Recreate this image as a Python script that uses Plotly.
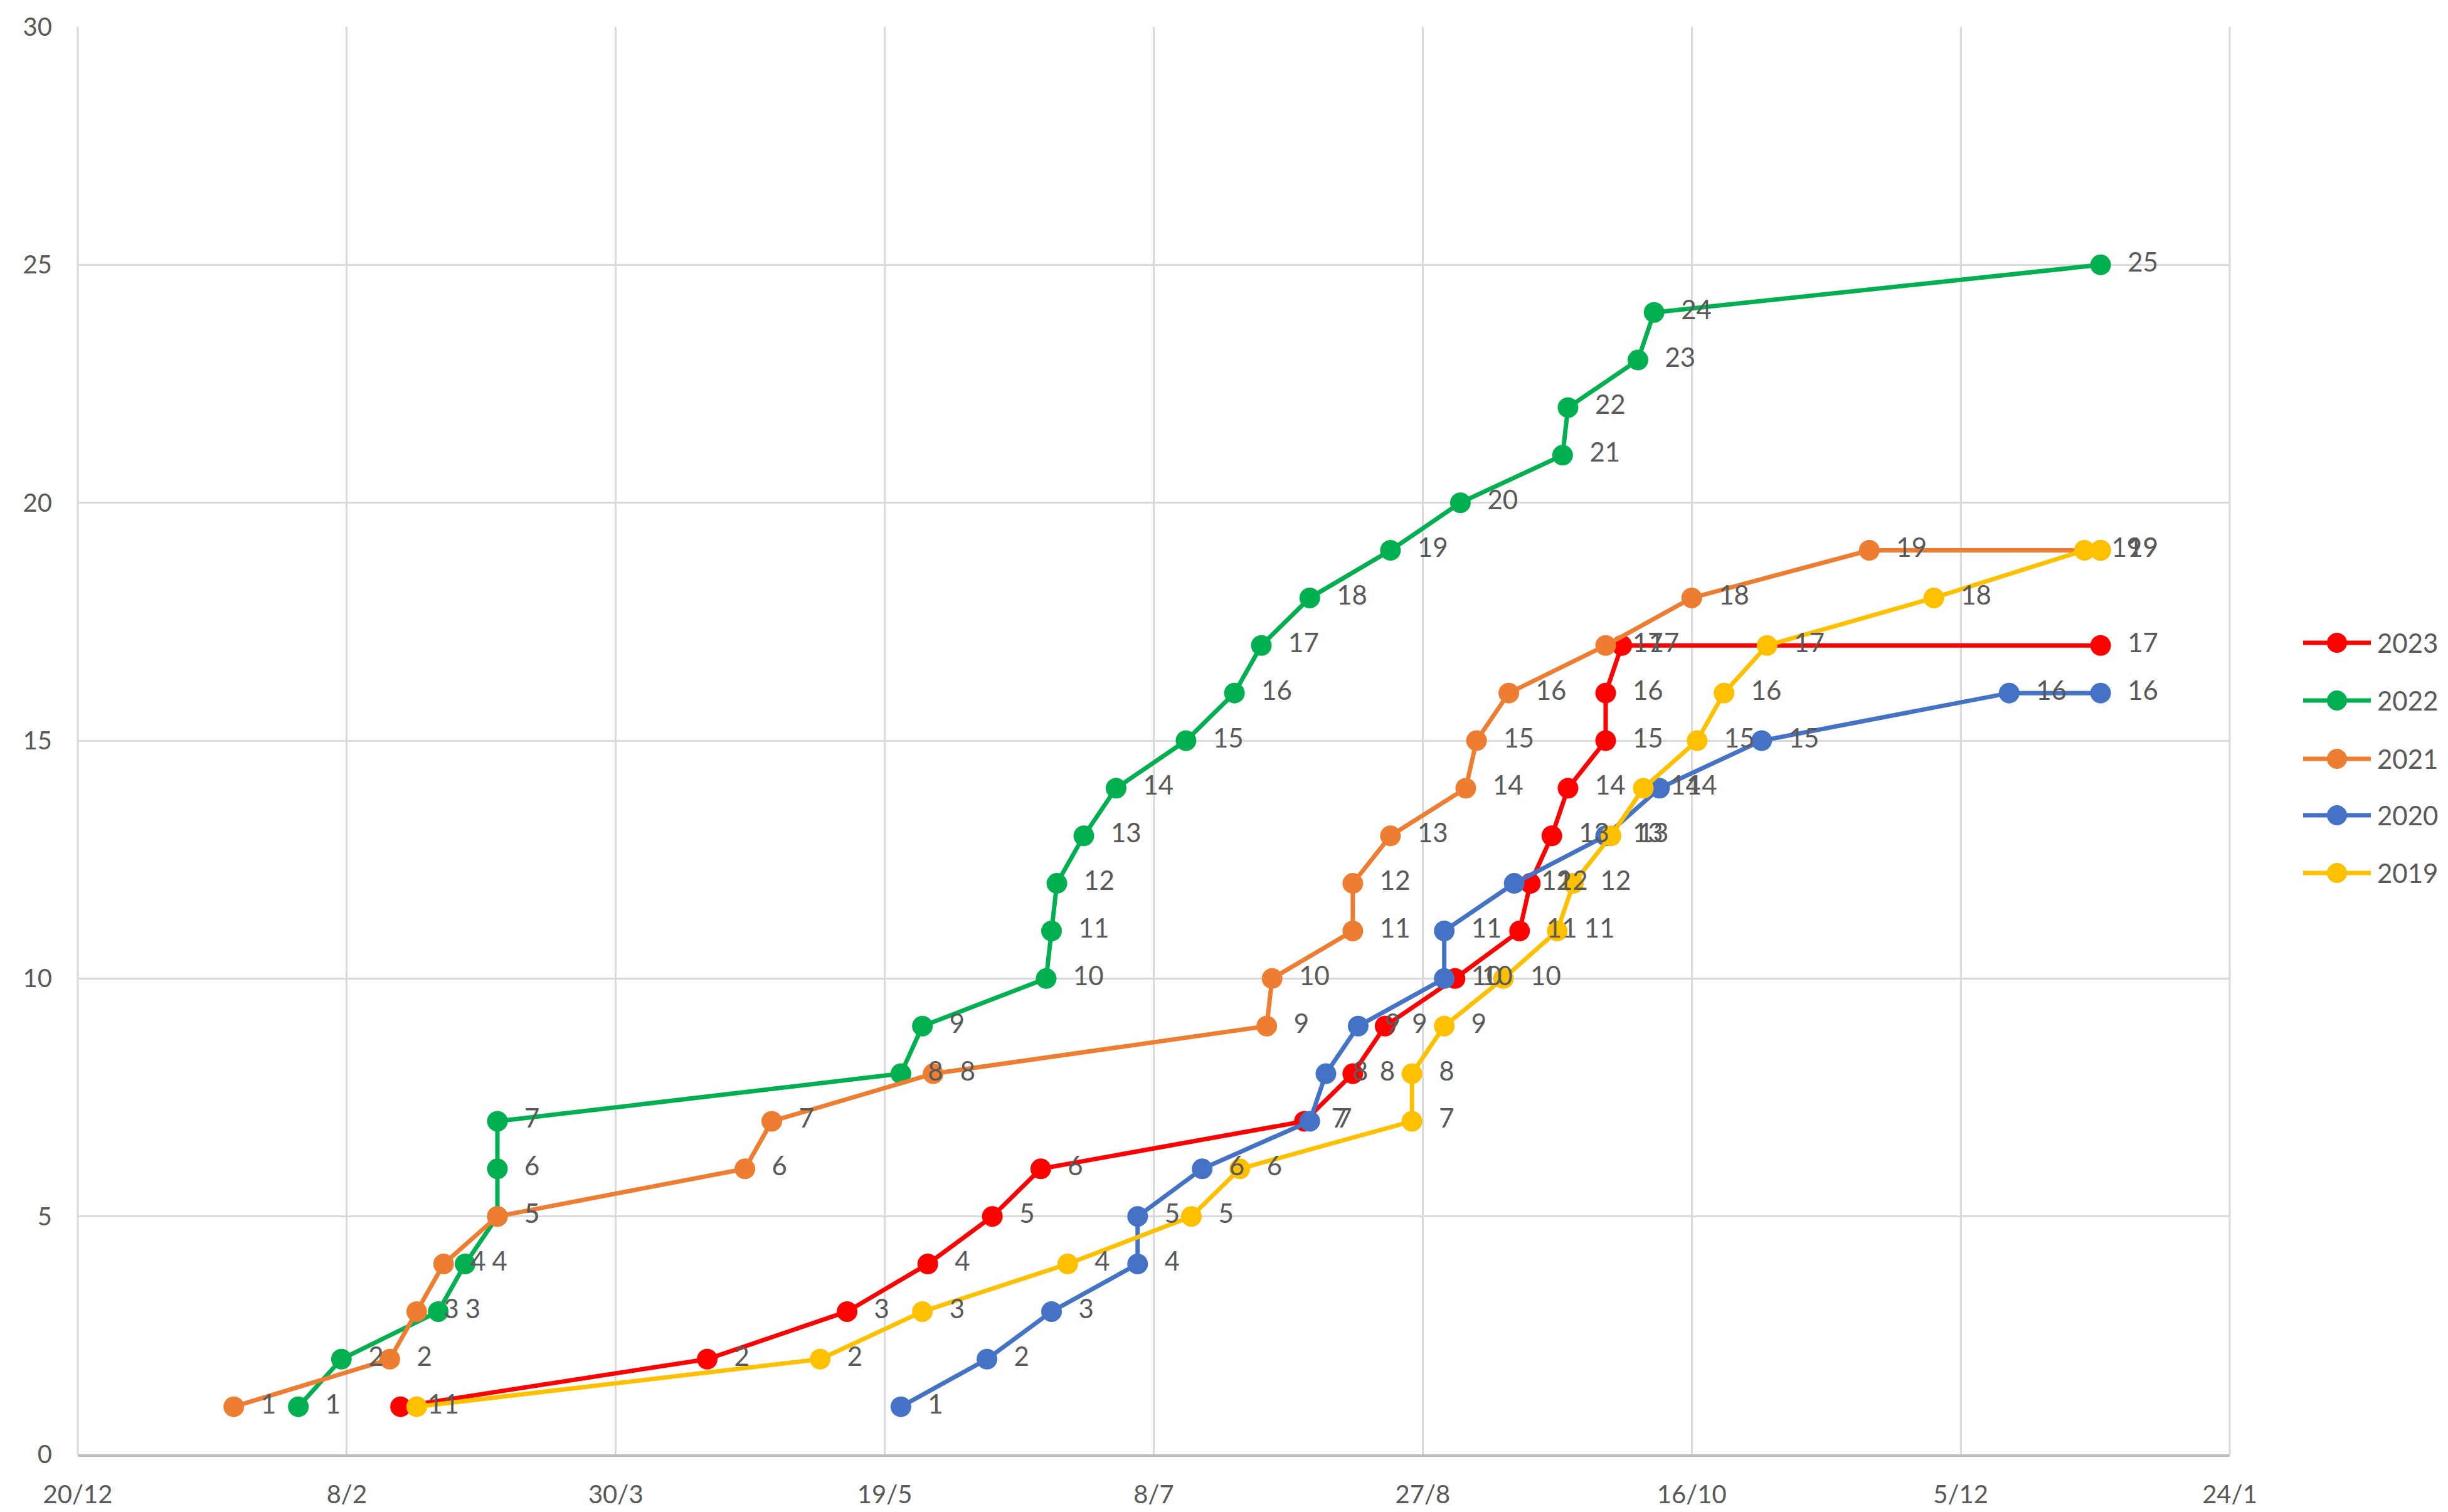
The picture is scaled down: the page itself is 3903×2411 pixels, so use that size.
import plotly.graph_objects as go

# Cumulative count per season, plotted on a common calendar year
PLOT_YEAR = 2023

series_names = ["2023", "2022", "2021", "2020", "2019"]
series_colors = ["#FF0000", "#00B050", "#ED7D31", "#4472C4", "#FFC000"]

md_2023 = ["02-18", "04-16", "05-12", "05-27", "06-08", "06-17", "08-05", "08-14",
           "08-20", "09-02", "09-14", "09-16", "09-20", "09-23", "09-30", "09-30",
           "10-03", "12-31"]
n_2023 = [1, 2, 3, 4, 5, 6, 7, 8, 9, 10, 11, 12, 13, 14, 15, 16, 17, 17]

md_2022 = ["01-30", "02-07", "02-25", "03-02", "03-08", "03-08", "03-08", "05-22",
           "05-26", "06-18", "06-19", "06-20", "06-25", "07-01", "07-14", "07-23",
           "07-28", "08-06", "08-21", "09-03", "09-22", "09-23", "10-06", "10-09",
           "12-31"]
n_2022 = [1, 2, 3, 4, 5, 6, 7, 8, 9, 10, 11, 12, 13, 14, 15, 16, 17, 18, 19, 20,
          21, 22, 23, 24, 25]

md_2021 = ["01-18", "02-16", "02-21", "02-26", "03-08", "04-23", "04-28", "05-28",
           "07-29", "07-30", "08-14", "08-14", "08-21", "09-04", "09-06", "09-12",
           "09-30", "10-16", "11-18", "12-31"]
n_2021 = [1, 2, 3, 4, 5, 6, 7, 8, 9, 10, 11, 12, 13, 14, 15, 16, 17, 18, 19, 19]

md_2020 = ["05-22", "06-07", "06-19", "07-05", "07-05", "07-17", "08-06", "08-09",
           "08-15", "08-31", "08-31", "09-13", "09-30", "10-10", "10-29", "12-14",
           "12-31"]
n_2020 = [1, 2, 3, 4, 5, 6, 7, 8, 9, 10, 11, 12, 13, 14, 15, 16, 16]

md_2019 = ["02-21", "05-07", "05-26", "06-22", "07-15", "07-24", "08-25", "08-25",
           "08-31", "09-11", "09-21", "09-24", "10-01", "10-07", "10-17", "10-22",
           "10-30", "11-30", "12-28", "12-31"]
n_2019 = [1, 2, 3, 4, 5, 6, 7, 8, 9, 10, 11, 12, 13, 14, 15, 16, 17, 18, 19, 19]

series_md = [md_2023, md_2022, md_2021, md_2020, md_2019]
series_n = [n_2023, n_2022, n_2021, n_2020, n_2019]

x_range = ["2022-12-20", "2024-01-24"]
y_ticks = [0, 5, 10, 15, 20, 25, 30]

W, H = 3903, 2411
M_L, M_R, M_T, M_B = 124, 348, 43, 92
GRID = "#D9D9D9"
TXT = "#595959"
FONT = "Lato, 'Open Sans', Arial, sans-serif"

fig = go.Figure()


def to_dates(mds):
    return [f"{PLOT_YEAR}-{md}" for md in mds]


# lines and markers
for name, col, mds, ns in zip(series_names, series_colors, series_md, series_n):
    fig.add_trace(go.Scatter(
        x=to_dates(mds), y=ns, name=name, mode="lines+markers",
        line=dict(color=col, width=7),
        marker=dict(color=col, size=33),
        showlegend=False,
    ))

# data labels on top of every series
PAD = "\u00a0" * 4
for name, mds, ns in zip(series_names, series_md, series_n):
    fig.add_trace(go.Scatter(
        x=to_dates(mds), y=ns, mode="text",
        text=[PAD + str(v) for v in ns],
        textposition="middle right",
        textfont=dict(family=FONT, size=42, color=TXT),
        showlegend=False, hoverinfo="skip",
    ))

# legend drawn at the right of the plot
pw = W - M_L - M_R
ph = H - M_T - M_B


def px_x(p):
    return (p - M_L) / pw


def px_y(p):
    return (H - M_B - p) / ph


legend_rows = [1025, 1117, 1210, 1300, 1392]
for name, col, ry in zip(series_names, series_colors, legend_rows):
    fig.add_shape(type="line", xref="paper", yref="paper",
                  x0=px_x(3672), x1=px_x(3780), y0=px_y(ry), y1=px_y(ry),
                  line=dict(color=col, width=7))
    fig.add_shape(type="circle", xref="paper", yref="paper",
                  xsizemode="pixel", ysizemode="pixel",
                  xanchor=px_x(3726), yanchor=px_y(ry),
                  x0=-16, x1=16, y0=-16, y1=16,
                  fillcolor=col, line=dict(color=col, width=0))
    fig.add_annotation(xref="paper", yref="paper", x=px_x(3788), y=px_y(ry),
                       xanchor="left", yanchor="middle", showarrow=False,
                       text=name, font=dict(family=FONT, size=42, color=TXT))

fig.update_layout(
    width=W, height=H,
    margin=dict(l=M_L, r=M_R, t=M_T, b=M_B),
    paper_bgcolor="white", plot_bgcolor="white",
    font=dict(family=FONT, size=40, color=TXT),
    showlegend=False,
)
fig.update_xaxes(
    type="date", range=x_range,
    tick0=x_range[0], dtick=50 * 86400000, tickformat="%-d/%-m",
    showgrid=True, gridcolor=GRID, gridwidth=3,
    showline=True, linecolor="#BFBFBF", linewidth=4, mirror=False,
    ticks="", ticklabelstandoff=26, automargin=False,
    tickfont=dict(family=FONT, size=40, color=TXT),
    zeroline=False,
)
fig.update_yaxes(
    range=[0, 30], tickvals=y_ticks,
    showgrid=True, gridcolor=GRID, gridwidth=3,
    showline=False, ticks="", ticklabelstandoff=40, automargin=False,
    tickfont=dict(family=FONT, size=40, color=TXT),
    zeroline=False,
)
# left and right frame lines in grid colour
fig.add_shape(type="line", xref="paper", yref="paper", x0=1, x1=1, y0=0, y1=1,
              line=dict(color=GRID, width=3), layer="below")
fig.add_shape(type="line", xref="paper", yref="paper", x0=0, x1=0, y0=0, y1=1,
              line=dict(color=GRID, width=3), layer="below")

fig.write_html("out.html")
